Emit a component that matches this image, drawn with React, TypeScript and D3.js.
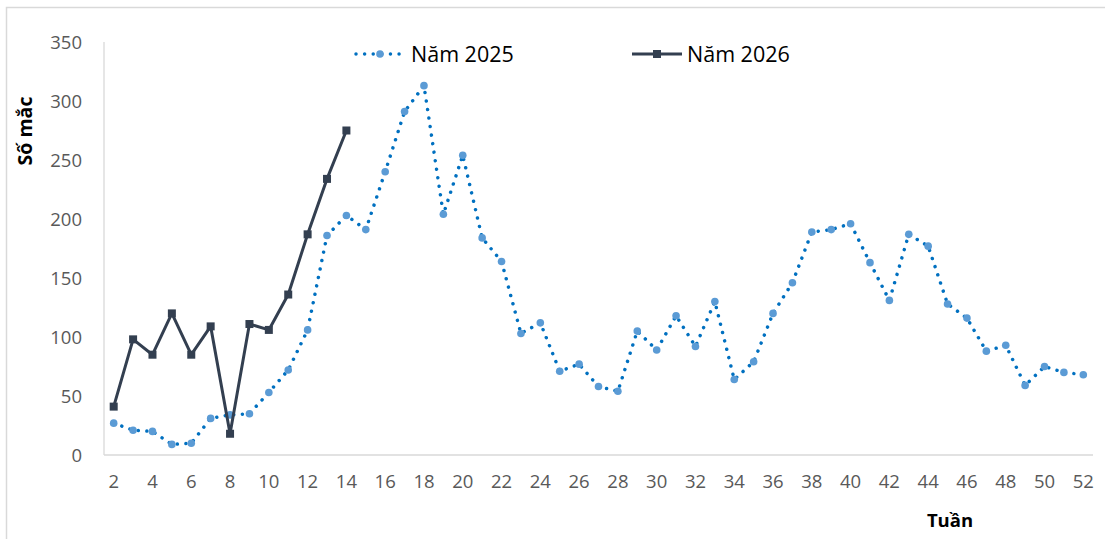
import React from 'react';
import * as d3 from 'd3';

const weeks = d3.range(2, 53);
const tickWeeks = [2, 4, 6, 8, 10, 12, 14, 16, 18, 20, 22, 24, 26, 28, 30, 32, 34, 36, 38, 40, 42, 44, 46, 48, 50, 52];
const yTicks = [0, 50, 100, 150, 200, 250, 300, 350];

const cases2025 = [
  27, 21, 20, 9, 10, 31, 34, 35, 53, 72, 106, 186, 203, 191, 240, 291, 313, 204, 254, 184,
  164, 103, 112, 71, 77, 58, 54, 105, 89, 118, 92, 130, 64, 79, 120, 146, 189, 191, 196, 163,
  131, 187, 177, 128, 116, 88, 93, 59, 75, 70, 68,
];
const cases2026 = [41, 98, 85, 120, 85, 109, 18, 111, 106, 136, 187, 234, 275];

const W = 1105;
const H = 539;
const FONT = '"Open Sans", "Noto Sans", sans-serif';
const BLUE_LINE = '#0070C0';
const BLUE_MARK = '#5B9BD5';
const NAVY = '#333F50';
const AXIS = '#D9D9D9';

const App: React.FC = () => {
  const x = d3.scaleBand<number>().domain(weeks).range([104, 1093]).padding(0);
  const cx = (w: number) => (x(w) || 0) + x.bandwidth() / 2;
  const y = d3.scaleLinear().domain([0, 350]).range([455, 42]);

  const pts2025 = cases2025.map((v, i) => [cx(weeks[i]), y(v)] as [number, number]);
  const pts2026 = cases2026.map((v, i) => [cx(weeks[i]), y(v)] as [number, number]);
  const line = d3.line<[number, number]>();

  return (
    <svg
      width={W}
      height={H}
      style={{ position: 'absolute', left: 0, top: 0, background: '#fff' }}
      fontFamily={FONT}
    >
      <rect x={0} y={0} width={W} height={H} fill="#fff" />
      {/* outer frame */}
      <path d={`M6.5,${H} V7.5 H${W}`} fill="none" stroke={AXIS} strokeWidth={1.5} />

      {/* axes */}
      <line x1={104} x2={104} y1={42} y2={455} stroke={AXIS} strokeWidth={1.3} />
      <line x1={104} x2={1093} y1={455} y2={455} stroke={AXIS} strokeWidth={1.3} />

      {yTicks.map((t) => (
        <text key={t} x={82} y={y(t)} dy="0.36em" textAnchor="end" fontSize={18.5} fill="#595959">
          {t}
        </text>
      ))}
      {tickWeeks.map((w) => (
        <text key={w} x={cx(w)} y={488} textAnchor="middle" fontSize={18.5} fill="#595959">
          {w}
        </text>
      ))}

      <text
        transform={`translate(32,131) rotate(-90)`}
        textAnchor="middle"
        fontSize={19.5}
        fontWeight="bold"
        fill="#000"
      >
        Số mắc
      </text>
      <text x={950} y={527} textAnchor="middle" fontSize={18.5} fontWeight="bold" fill="#000">
        Tuần
      </text>

      {/* 2025 series */}
      <path
        d={line(pts2025) || ''}
        fill="none"
        stroke={BLUE_LINE}
        strokeWidth={3.5}
        strokeDasharray="0.01 8.6"
        strokeLinecap="round"
        strokeLinejoin="round"
      />
      {pts2025.map((p, i) => (
        <circle key={i} cx={p[0]} cy={p[1]} r={3.8} fill={BLUE_MARK} />
      ))}

      {/* 2026 series */}
      <path d={line(pts2026) || ''} fill="none" stroke={NAVY} strokeWidth={3} strokeLinejoin="round" />
      {pts2026.map((p, i) => (
        <rect key={i} x={p[0] - 4} y={p[1] - 4} width={8} height={8} fill={NAVY} />
      ))}

      {/* legend */}
      <g>
        <line
          x1={356}
          x2={404}
          y1={54}
          y2={54}
          stroke={BLUE_LINE}
          strokeWidth={3.5}
          strokeDasharray="0.01 8.6"
          strokeLinecap="round"
        />
        <circle cx={380} cy={54} r={3.8} fill={BLUE_MARK} />
        <text x={411} y={54} dy="0.36em" fontSize={21.5} fill="#000">
          Năm 2025
        </text>
        <line x1={632} x2={682} y1={54} y2={54} stroke={NAVY} strokeWidth={3} />
        <rect x={653} y={50} width={8} height={8} fill={NAVY} />
        <text x={687} y={54} dy="0.36em" fontSize={21.5} fill="#000">
          Năm 2026
        </text>
      </g>
    </svg>
  );
};

export default App;
